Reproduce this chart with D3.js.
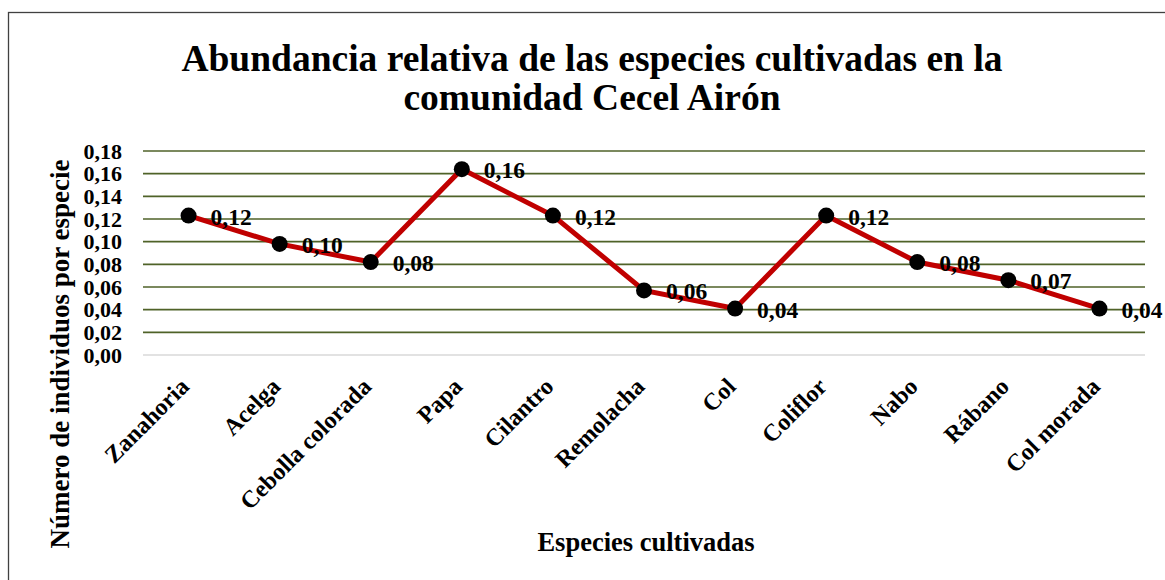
<!DOCTYPE html>
<html><head><meta charset="utf-8">
<script src="https://cdn.jsdelivr.net/npm/d3@7"></script>
<style>body{margin:0;background:#fff}svg{display:block}text{font-family:"Liberation Serif","Times New Roman",serif;font-weight:bold;fill:#000}</style>
</head><body><svg id="c" width="1165" height="580"></svg>
<script>
const categories = ["Zanahoria","Acelga","Cebolla colorada","Papa","Cilantro","Remolacha","Col","Coliflor","Nabo","Rábano","Col morada"];
const values = [0.123,0.098,0.082,0.164,0.123,0.057,0.041,0.123,0.082,0.066,0.041];
const yTicks = [0,0.02,0.04,0.06,0.08,0.10,0.12,0.14,0.16,0.18];
const titleLines = ["Abundancia relativa de las especies cultivadas en la","comunidad Cecel Airón"];
const xTitle = "Especies cultivadas";
const yTitle = "Número de individuos por especie";

const svg = d3.select("#c");
const fmt = v => d3.format(".2f")(v).replace(".", ",");
const m = {l:143, r:1145, t:151, b:355};
const x = d3.scaleBand().domain(categories).range([m.l, m.r]);
const y = d3.scaleLinear().domain([0,0.18]).range([m.b, m.t]);

svg.append("rect").attr("x",8.5).attr("y",12.5).attr("width",1170).attr("height",600)
  .attr("fill","none").attr("stroke","#404040").attr("stroke-width",1.3);

// title
svg.append("g").selectAll("text").data(titleLines).join("text")
  .attr("x",592).attr("y",(d,i)=>71+i*39).attr("text-anchor","middle")
  .style("font-size","37.5px").text(d=>d);

// grid
svg.append("g").selectAll("line").data(yTicks).join("line")
  .attr("x1",m.l).attr("x2",m.r).attr("y1",d=>y(d)).attr("y2",d=>y(d))
  .attr("stroke",d=>d===0?"#d9d9d9":"#4f6228").attr("stroke-width",1.6);

// y axis labels
const ya = svg.append("g").attr("transform",`translate(${m.l-21},0)`)
  .call(d3.axisLeft(y).tickValues(yTicks).tickFormat(fmt).tickSize(0).tickPadding(0));
ya.select(".domain").remove();
ya.selectAll("text").style("font-size","22px").attr("font-family",null).attr("dy","0.33em");

// x axis labels
const xa = svg.append("g").attr("transform",`translate(0,${m.b})`)
  .call(d3.axisBottom(x).tickSize(0).tickFormat(d=>d));
xa.select(".domain").remove();
xa.selectAll("text").style("font-size","24px").attr("font-family",null)
  .attr("text-anchor","end").attr("y",0).attr("dy",0)
  .attr("transform","translate(2,33) rotate(-45)");

// line
const line = d3.line().x((d,i)=>x(categories[i])+x.bandwidth()/2).y(d=>y(d));
svg.append("path").datum(values).attr("d",line).attr("fill","none")
  .attr("stroke","#c00000").attr("stroke-width",5).attr("stroke-linejoin","miter");

svg.append("g").selectAll("circle").data(values).join("circle")
  .attr("cx",(d,i)=>x(categories[i])+x.bandwidth()/2).attr("cy",d=>y(d)).attr("r",8).attr("fill","#000");

svg.append("g").selectAll("text").data(values).join("text")
  .attr("x",(d,i)=>x(categories[i])+x.bandwidth()/2+22).attr("y",d=>y(d)+9)
  .style("font-size","23.5px").text(fmt);

// axis titles
svg.append("text").attr("x",646).attr("y",551).attr("text-anchor","middle").style("font-size","26.5px").text(xTitle);
svg.append("text").attr("transform","translate(69,354) rotate(-90)").attr("text-anchor","middle").style("font-size","27px").text(yTitle);
</script></body></html>
